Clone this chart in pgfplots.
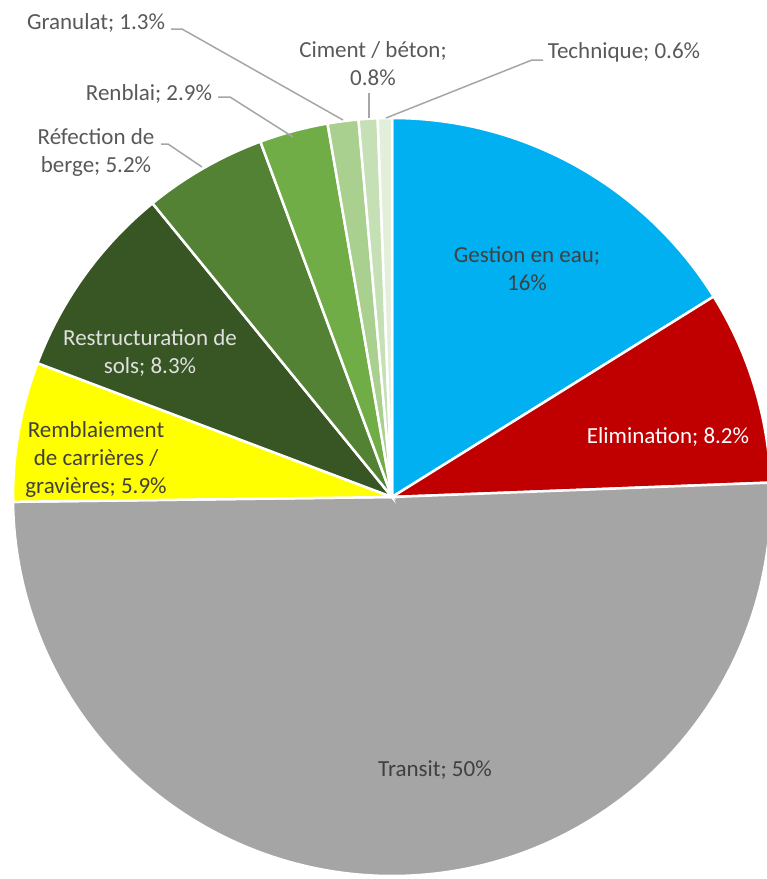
\documentclass[border=0pt]{standalone}
\usepackage{pgfplots}
\pgfplotsset{compat=1.18}
\usepackage{fontspec}
\setmainfont{Carlito}

\definecolor{cGestion}{HTML}{00B0F0}
\definecolor{cElim}{HTML}{C00000}
\definecolor{cTransit}{HTML}{A5A5A5}
\definecolor{cRembl}{HTML}{FFFF00}
\definecolor{cRestr}{HTML}{375623}
\definecolor{cRefec}{HTML}{548235}
\definecolor{cRenb}{HTML}{70AD47}
\definecolor{cGran}{HTML}{A9D08E}
\definecolor{cCim}{HTML}{C5E0B4}
\definecolor{cTech}{HTML}{E2EFDA}
\definecolor{txt}{HTML}{595959}
\definecolor{txtd}{HTML}{404040}
\definecolor{lead}{HTML}{A6A6A6}

\tikzset{lbl/.style={font=\fontsize{23}{28}\selectfont, align=center, inner sep=0pt}}

\begin{document}
\begin{tikzpicture}
\useasboundingbox (0,0) rectangle (767pt,879pt);
\begin{axis}[
    hide axis,
    scale only axis,
    width=767pt, height=879pt,
    xmin=0, xmax=767,
    ymin=0, ymax=879,
    y dir=reverse,
    clip=false,
    at={(0,0)}, anchor=south west,
]
% pie: centre (392,497), radius 379, clockwise from 12 o'clock
\pgfplotsextra{
  \def\tot{99.2}
  \xdef\start{90}
  \foreach \v/\c in {16/cGestion, 8.2/cElim, 50/cTransit, 5.9/cRembl,
                     8.3/cRestr, 5.2/cRefec, 2.9/cRenb, 1.3/cGran,
                     0.8/cCim, 0.6/cTech}{
    \pgfmathsetmacro\en{\start - \v/\tot*360}
    \fill[\c, draw=white, line width=2.5pt] (axis cs:392,497) -- ++(\start:379pt)
        arc[start angle=\start, end angle=\en, radius=379pt] -- cycle;
    \xdef\start{\en}
  }
}

% labels inside
\node[lbl, text=txtd] at (axis cs:527,269) {Gestion en eau;\\16\%};
\node[lbl, text=white] at (axis cs:668,437) {Elimination; 8.2\%};
\node[lbl, text=txtd] at (axis cs:435,770) {Transit; 50\%};
\node[lbl, text=white!88!black] at (axis cs:150,353) {Restructuration de\\sols; 8.3\%};
\node[lbl, text=txtd] at (axis cs:96,459) {Remblaiement\\de carrières /\\gravières; 5.9\%};

% labels outside
\node[lbl, text=txt] at (axis cs:96,152) {Réfection de\\berge; 5.2\%};
\node[lbl, text=txt] at (axis cs:149,94) {Renblai; 2.9\%};
\node[lbl, text=txt] at (axis cs:96,23) {Granulat; 1.3\%};
\node[lbl, text=txt] at (axis cs:373,64) {Ciment / béton;\\0.8\%};
\node[lbl, text=txt] at (axis cs:624,52) {Technique; 0.6\%};

% leader lines
\draw[lead, line width=1.5pt] (axis cs:171,29) -- (axis cs:182,29) -- (axis cs:343,120);
\draw[lead, line width=1.5pt] (axis cs:218,97) -- (axis cs:230,97) -- (axis cs:293,137);
\draw[lead, line width=1.5pt] (axis cs:161,144) -- (axis cs:168,144) -- (axis cs:202,167);
\draw[lead, line width=1.5pt] (axis cs:369,93) -- (axis cs:369,118);
\draw[lead, line width=1.5pt] (axis cs:386,118) -- (axis cs:532,60) -- (axis cs:543,60);
\end{axis}
\end{tikzpicture}
\end{document}
